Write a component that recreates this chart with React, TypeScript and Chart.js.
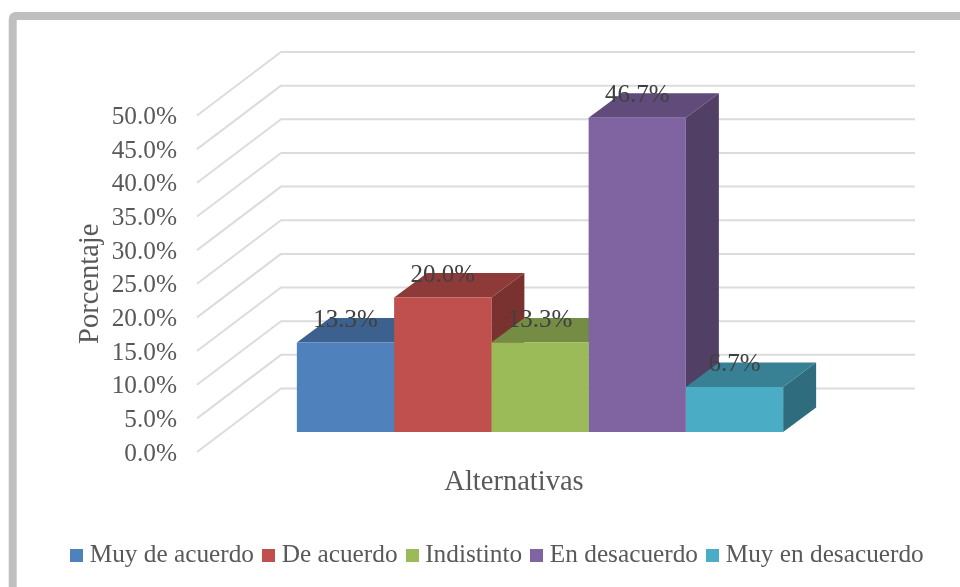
import React, { useEffect, useRef } from "react";
import { Chart, registerables } from "chart.js";

Chart.register(...registerables);

const categories = ["Alternativas"];
const seriesNames = ["Muy de acuerdo", "De acuerdo", "Indistinto", "En desacuerdo", "Muy en desacuerdo"];
const seriesValues = [13.3, 20.0, 13.3, 46.7, 6.7];
const frontColors = ["#4F81BD", "#C0504D", "#9BBB59", "#8064A2", "#4BACC6"];
const topColors = ["#3D618F", "#8E3A38", "#748C43", "#604B7A", "#388194"];
const sideColors = ["#34527A", "#7A3230", "#637839", "#523F66", "#2F6D7E"];

const FONT = "'Liberation Serif', serif";
const WALL_DX = 84;
const WALL_DY = 63.5;
const FRONT_DX = 26;
const FRONT_DY = 20;
const DEPTH_DX = 33;
const DEPTH_DY = 24.5;
const TICK_LABEL_DROP = 2;

function swatch(color: string) {
  const c = document.createElement("canvas");
  c.width = 13;
  c.height = 13;
  const g = c.getContext("2d")!;
  g.fillStyle = color;
  g.fillRect(0, 0, 13, 13);
  return c;
}

const scene = {
  id: "scene",
  afterUpdate(chart: any) {
    chart.scales.y.getLabelItems().forEach((item: any) => {
      item.options.translation[1] += TICK_LABEL_DROP;
    });
  },
  beforeDraw(chart: any) {
    const { ctx } = chart;
    ctx.save();
    ctx.fillStyle = "#ffffff";
    ctx.fillRect(0, 0, chart.width, chart.height);
    ctx.strokeStyle = "#BFBFBF";
    ctx.lineWidth = 8;
    ctx.beginPath();
    ctx.roundRect(12.7, 16, 1100, 800, 3);
    ctx.stroke();
    ctx.restore();
  },
  beforeDatasetsDraw(chart: any) {
    const { ctx, chartArea } = chart;
    const yScale = chart.scales.y;
    ctx.save();
    ctx.strokeStyle = "#DCDCDC";
    ctx.lineWidth = 2;
    ctx.lineJoin = "round";
    yScale.ticks.forEach((t: any) => {
      const y = yScale.getPixelForValue(t.value);
      ctx.beginPath();
      ctx.moveTo(chartArea.left, y);
      ctx.lineTo(chartArea.left + WALL_DX, y - WALL_DY);
      ctx.lineTo(chartArea.right + WALL_DX, y - WALL_DY);
      ctx.stroke();
    });
    chart.data.datasets.forEach((_: any, i: number) => {
      const bar = chart.getDatasetMeta(i).data[0];
      const l = bar.x - bar.width / 2 + FRONT_DX;
      const r = bar.x + bar.width / 2 + FRONT_DX;
      const t = bar.y - FRONT_DY;
      const b = bar.base - FRONT_DY;
      ctx.fillStyle = sideColors[i];
      ctx.beginPath();
      ctx.moveTo(r, t);
      ctx.lineTo(r + DEPTH_DX, t - DEPTH_DY);
      ctx.lineTo(r + DEPTH_DX, b - DEPTH_DY);
      ctx.lineTo(r, b);
      ctx.closePath();
      ctx.fill();
      ctx.fillStyle = topColors[i];
      ctx.beginPath();
      ctx.moveTo(l, t);
      ctx.lineTo(l + DEPTH_DX, t - DEPTH_DY);
      ctx.lineTo(r + DEPTH_DX, t - DEPTH_DY);
      ctx.lineTo(r, t);
      ctx.closePath();
      ctx.fill();
    });
    ctx.restore();
    ctx.save();
    ctx.translate(FRONT_DX, -FRONT_DY);
  },
  afterDatasetsDraw(chart: any) {
    const { ctx } = chart;
    ctx.restore();
    ctx.save();
    ctx.fillStyle = "#404040";
    ctx.font = `25px ${FONT}`;
    ctx.textAlign = "center";
    ctx.textBaseline = "middle";
    chart.data.datasets.forEach((ds: any, i: number) => {
      const bar = chart.getDatasetMeta(i).data[0];
      ctx.fillText(ds.data[0].toFixed(1) + "%", bar.x + FRONT_DX, bar.y - FRONT_DY - 22);
    });
    ctx.restore();
  },
};

export default function App() {
  const ref = useRef<HTMLCanvasElement>(null);
  useEffect(() => {
    const chart = new Chart(ref.current!, {
      type: "bar",
      data: {
        labels: categories,
        datasets: seriesNames.map((name, i) => ({
          label: name,
          data: [seriesValues[i]],
          backgroundColor: frontColors[i],
          borderWidth: 0,
          clip: false as any,
        })),
      },
      plugins: [scene],
      options: {
        responsive: false,
        animation: false,
        categoryPercentage: 0.767,
        barPercentage: 1,
        layout: { padding: { left: 62, right: 10, top: 115.5, bottom: 9 } },
        plugins: {
          tooltip: { enabled: false },
          legend: {
            position: "bottom",
            align: "start",
            labels: {
              font: { family: FONT, size: 25.3 },
              color: "#595959",
              padding: 14,
              usePointStyle: true,
              pointStyleWidth: 1,
              generateLabels(c: any) {
                return Chart.defaults.plugins.legend.labels.generateLabels(c).map((it: any, i: number) => ({
                  ...it,
                  pointStyle: swatch(frontColors[i]),
                }));
              },
            },
          },
        },
        scales: {
          x: {
            grid: { display: false },
            border: { display: false },
            ticks: { display: false },
            title: {
              display: true,
              text: "Alternativas",
              color: "#595959",
              font: { family: FONT, size: 28.5 },
              padding: { top: 0, bottom: 29.4 },
            },
            afterFit(s: any) {
              s.height = 76.7;
            },
          },
          y: {
            min: 0,
            max: 50,
            grid: { display: false, drawTicks: false },
            border: { display: false },
            ticks: {
              stepSize: 5,
              padding: 20,
              color: "#595959",
              font: { family: FONT, size: 25.3 },
              callback: (v: any) => Number(v).toFixed(1) + "%",
            },
            title: {
              display: true,
              text: "Porcentaje",
              color: "#595959",
              font: { family: FONT, size: 28.5 },
              padding: { top: 11, bottom: 0 },
            },
            afterFit(s: any) {
              s.width = 135;
            },
          },
          yRight: {
            position: "right",
            grid: { display: false },
            border: { display: false },
            ticks: { display: false },
            afterFit(s: any) {
              s.width = 119;
            },
          },
        },
      } as any,
    });
    return () => chart.destroy();
  }, []);
  return (
    <div style={{ position: "absolute", left: 0, top: 0, width: 960, height: 587, overflow: "hidden" }}>
      <canvas ref={ref} width={960} height={587} style={{ display: "block" }} />
    </div>
  );
}
